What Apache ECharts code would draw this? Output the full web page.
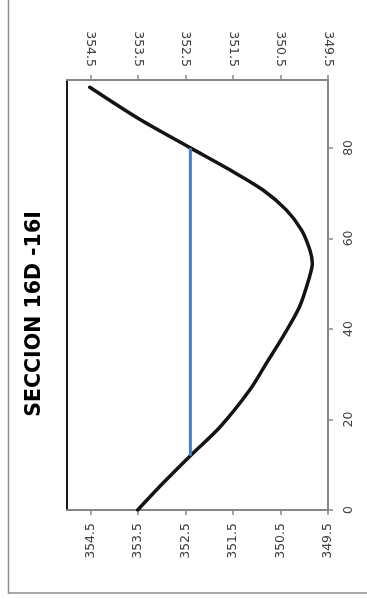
<!DOCTYPE html>
<html>
<head>
<meta charset="utf-8">
<script src="https://cdn.jsdelivr.net/npm/echarts@6/dist/echarts.min.js"></script>
<style>
  html, body { margin: 0; padding: 0; background: #fff; }
  #chart { width: 367px; height: 599px; }
</style>
</head>
<body>
<div id="chart"></div>
<script>
// Cross-section 16D-16I: ground profile (distance vs. elevation) and water level
const sectionTitle = 'SECCION 16D -16I';

// Ground profile
const profileDistance = [0, 6, 12, 18.4, 26.5, 32.4, 38.3, 44.9, 51.5, 54.5, 57.4, 61.9, 66.3, 70.7, 75.1, 80, 86.2, 93.4];
const profileElevation = [353.51, 352.97, 352.4, 351.77, 351.15, 350.8, 350.45, 350.1, 349.89, 349.83, 349.88, 350.06, 350.38, 350.87, 351.56, 352.4, 353.45, 354.52];

// Water surface
const waterDistance = [12, 80];
const waterElevation = [352.4, 352.4];

// Axis ranges
const elevationMin = 349.5, elevationMax = 355, elevationStep = 1;
const distanceMin = 0, distanceMax = 95, distanceStep = 20;

const toPairs = (xs, ys) => xs.map((d, i) => [ys[i], d]);

const labelFont = { fontFamily: 'DejaVu Sans', fontSize: 12.5, color: '#404040' };

const elevationAxis = (pos) => ({
  type: 'value', position: pos, inverse: true,
  min: elevationMin, max: elevationMax, interval: elevationStep,
  axisLine: { show: true, onZero: false, lineStyle: { color: '#868686', width: 2 } },
  axisTick: { show: true, length: 5, lineStyle: { color: '#868686', width: 1.5 } },
  axisLabel: Object.assign({ rotate: 90, margin: 13, showMaxLabel: false,
    formatter: v => (Math.abs(v - elevationMax) < 1e-6 ? '' : v.toFixed(1)) }, labelFont),
  splitLine: { show: false }
});

const chart = echarts.init(document.getElementById('chart'), null, { renderer: 'canvas' });
chart.setOption({
  animation: false,
  backgroundColor: '#fff',
  grid: { left: 67, right: 39, top: 80, bottom: 89, containLabel: false },
  xAxis: [elevationAxis('bottom'), elevationAxis('top')],
  yAxis: [
    {
      type: 'value', position: 'right',
      min: distanceMin, max: distanceMax, interval: distanceStep,
      axisLine: { show: true, onZero: false, lineStyle: { color: '#868686', width: 2 } },
      axisTick: { show: true, length: 5, lineStyle: { color: '#868686', width: 1.5 } },
      axisLabel: Object.assign({ rotate: 90, margin: 14, showMaxLabel: false,
        formatter: v => (v % distanceStep === 0 ? String(v) : '') }, labelFont),
      splitLine: { show: false }
    },
    {
      type: 'value', position: 'left',
      min: distanceMin, max: distanceMax,
      axisLine: { show: true, onZero: false, lineStyle: { color: '#1a1a1a', width: 2 } },
      axisTick: { show: false }, axisLabel: { show: false }, splitLine: { show: false }
    }
  ],
  series: [
    {
      type: 'line', name: 'Perfil', xAxisIndex: 0, yAxisIndex: 0,
      data: toPairs(profileDistance, profileElevation),
      smooth: 0.3, showSymbol: false,
      lineStyle: { color: '#141414', width: 3.5, cap: 'round' }
    },
    {
      type: 'line', name: 'Nivel de agua', xAxisIndex: 0, yAxisIndex: 0,
      data: toPairs(waterDistance, waterElevation),
      showSymbol: false,
      lineStyle: { color: '#4a7ebb', width: 3 }
    }
  ],
  graphic: [
    {
      type: 'rect', silent: true,
      shape: { x: 8.5, y: -10, width: 400, height: 603 },
      style: { fill: 'none', stroke: '#8c8c8c', lineWidth: 1.5 }
    },
    {
      type: 'text', x: 35, y: 314, rotation: Math.PI / 2,
      style: {
        text: sectionTitle,
        fontFamily: 'DejaVu Sans', fontWeight: 'bold', fontSize: 20.5,
        fill: '#000', align: 'center', verticalAlign: 'middle'
      }
    }
  ]
});
</script>
</body>
</html>
